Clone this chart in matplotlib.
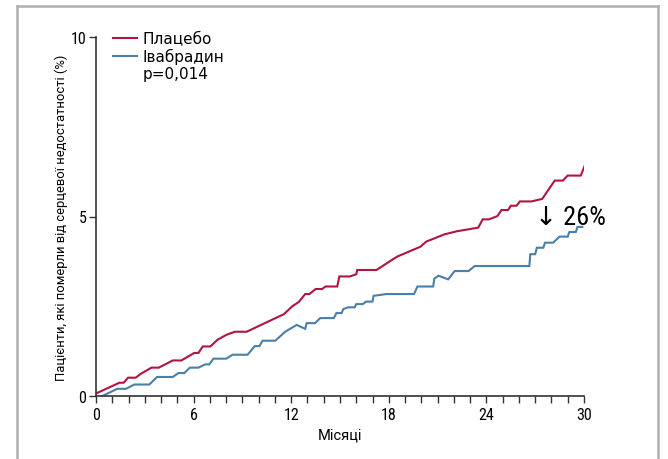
import matplotlib
matplotlib.use("Agg")
import matplotlib.pyplot as plt
from matplotlib.lines import Line2D
import numpy as np

COND = ['Roboto Condensed', 'Liberation Sans Narrow', 'Roboto', 'DejaVu Sans']
REG = ['DejaVu Sans']
ROB = ['Roboto', 'DejaVu Sans']
plt.rcParams['font.family'] = COND

placebo_months = [0, 1.44, 1.7, 1.97, 2.44, 2.76, 3.41, 3.86, 4.72, 5.25, 6.04, 6.3, 6.56, 7.03,
                  7.48, 8.0, 8.53, 9.26, 11.55, 12.07, 12.47, 12.86, 13.12, 13.5, 13.9, 14.1,
                  14.83, 14.96, 15.6, 16.0, 16.06, 17.24, 18.5, 19.95, 20.3, 21.4, 22.2, 23.5,
                  23.77, 24.15, 24.67, 24.93, 25.33, 25.5, 25.85, 26.06, 26.77, 27.43, 28.2,
                  28.7, 29.0, 29.8, 30.1]
placebo_values = [0.07, 0.37, 0.37, 0.51, 0.51, 0.62, 0.79, 0.79, 0.99, 0.99, 1.2, 1.2, 1.38, 1.38,
                  1.57, 1.70, 1.79, 1.79, 2.28, 2.50, 2.62, 2.84, 2.84, 2.98, 2.98, 3.05,
                  3.05, 3.33, 3.33, 3.39, 3.51, 3.51, 3.88, 4.16, 4.30, 4.50, 4.59, 4.69,
                  4.92, 4.92, 5.01, 5.18, 5.18, 5.30, 5.30, 5.42, 5.42, 5.49, 6.0,
                  6.0, 6.14, 6.14, 6.48]

ivab_months = [0.39, 1.31, 1.84, 2.36, 3.28, 3.75, 4.72, 5.07, 5.43, 5.77, 6.3, 6.7, 6.96, 7.22,
               8.0, 8.4, 9.32, 9.76, 10.05, 10.24, 11.02, 11.63, 12.34, 12.86, 12.95, 13.47,
               13.78, 14.62, 14.78, 15.1, 15.2, 15.5, 15.9, 16.0, 16.4, 16.6, 17.0, 17.06,
               17.85, 19.55, 19.76, 20.73, 20.8, 21.05, 21.65, 22.05, 22.9, 23.28, 26.64,
               26.7, 27.0, 27.1, 27.5, 27.6, 28.1, 28.5, 29.0, 29.1, 29.5, 29.6, 29.9]
ivab_values = [0.0, 0.20, 0.20, 0.32, 0.32, 0.53, 0.53, 0.64, 0.64, 0.79, 0.79, 0.88, 0.88, 1.04,
               1.04, 1.15, 1.15, 1.39, 1.39, 1.54, 1.54, 1.79, 1.98, 1.87, 2.03, 2.03,
               2.17, 2.17, 2.31, 2.31, 2.42, 2.47, 2.47, 2.56, 2.56, 2.63, 2.63, 2.79,
               2.84, 2.84, 3.05, 3.05, 3.27, 3.35, 3.25, 3.48, 3.48, 3.62, 3.62,
               3.95, 3.95, 4.13, 4.13, 4.27, 4.27, 4.44, 4.44, 4.57, 4.57, 4.71, 4.71]

series_labels = ['Плацебо', 'Івабрадин']
x_ticks = [0, 6, 12, 18, 24, 30]
y_ticks = [0, 5, 10]

red = '#b3143f'
blue = '#4a7fa8'

fig = plt.figure(figsize=(6.68, 4.60), dpi=100)
ax = fig.add_axes([96/668, 1-397/460, (584-96)/668, (397-38)/460])

ax.plot(placebo_months, placebo_values, color=red, lw=1.5, label=series_labels[0],
        solid_joinstyle='miter')
ax.plot(ivab_months, ivab_values, color=blue, lw=1.5, label=series_labels[1],
        solid_joinstyle='miter')

ax.set_xlim(0, 30)
ax.set_ylim(0, 10)
ax.set_xticks(x_ticks)
ax.set_xticks(np.arange(0, 31, 1), minor=True)
ax.set_yticks(y_ticks)
for s in ['top', 'right']:
    ax.spines[s].set_visible(False)
for s in ['left', 'bottom']:
    ax.spines[s].set_color('#333333')
    ax.spines[s].set_linewidth(1.2)
ax.tick_params(axis='x', which='both', direction='out', length=5, width=1, color='#333333',
               labelsize=11.5, pad=3)
ax.tick_params(axis='y', which='both', direction='out', length=5, width=1, color='#333333',
               labelsize=11.5, pad=2)

ax.set_xlabel('Місяці', fontsize=10.5, family=ROB, labelpad=4)
ax.set_ylabel('Пацієнти, які померли від серцевої недостатності (%)', fontsize=9.4,
              family=ROB, labelpad=2)

leg = ax.legend(loc='upper left', bbox_to_anchor=(0.007, 1.055), frameon=False,
                handlelength=1.55, handletextpad=0.4, labelspacing=0.15,
                prop={'family': REG, 'size': 11})
ax.text(0.096, 0.897, 'p=0,014', transform=ax.transAxes, fontsize=11,
        family=REG, va='center', ha='left')

ax.text(27.0, 5.0, '↓ 26%', fontsize=19, family=COND, va='center', ha='left')

# outer gray frame
fc = '#b0b0b0'
fig.add_artist(Line2D([17/668, 17/668], [0, 1-7/460], transform=fig.transFigure, color=fc, lw=1.8))
fig.add_artist(Line2D([17/668, 658/668], [1-7/460, 1-7/460], transform=fig.transFigure, color=fc, lw=1.8))
fig.add_artist(Line2D([658/668, 658/668], [0, 1-7/460], transform=fig.transFigure, color=fc, lw=1.8))

fig.savefig('out.png', dpi=100)
